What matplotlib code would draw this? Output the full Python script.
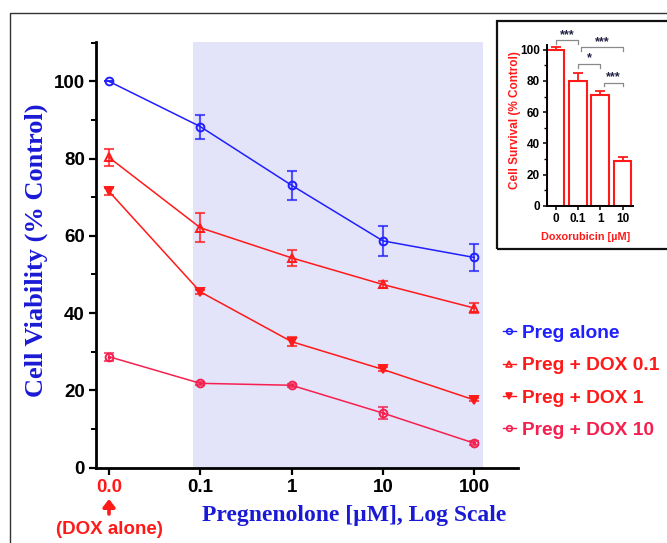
import numpy as np
import matplotlib
matplotlib.use('Agg')
import matplotlib.pyplot as plt
from matplotlib.lines import Line2D
from matplotlib.patches import Rectangle

# main panel data (% control), x = pregnenolone dose
x_labels = ['0.0', '0.1', '1', '10', '100']
preg_alone = [100, 88.3, 73.1, 58.7, 54.4]
preg_alone_err = [0.0, 3.1, 3.8, 3.8, 3.6]
dox01 = [80.3, 62.1, 54.3, 47.4, 41.3]
dox01_err = [2.2, 3.7, 2.0, 0.8, 1.3]
dox1 = [71.5, 45.5, 32.6, 25.4, 17.5]
dox1_err = [1.0, 0.5, 1.2, 0.5, 0.4]
dox10 = [28.7, 21.8, 21.3, 14.1, 6.3]
dox10_err = [1.0, 0.4, 0.4, 1.5, 0.5]

# inset data: doxorubicin alone
dox_doses = ['0', '0.1', '1', '10']
dox_survival = [100, 80.1, 71.2, 28.5]
dox_sem = [1.5, 4.9, 2.5, 2.8]
# significance brackets: (from, to, height, label)
sig_pairs = [(0, 1, 106, '***'), (1.15, 3, 101.5, '***'), (1, 2, 91, '*'), (2.15, 3, 79, '***')]

BLUE = '#1f1fff'
LBLUE = '#1a1ad6'
RED = '#ff1a1a'
PINK = '#f5204f'
SANS = ['Liberation Sans', 'DejaVu Sans']
SERIF = ['Liberation Serif', 'DejaVu Serif']

plt.rcParams['font.family'] = SANS

W, H = 667, 543
fig = plt.figure(figsize=(W / 100, H / 100), dpi=100)

def fx(px):
    return px / W

def fy(py):
    return 1 - py / H

# figure border (runs off right/bottom edge)
fig.patches.append(Rectangle((fx(9.5), -0.1), 1.2, fy(13) + 0.1, transform=fig.transFigure,
                             fill=False, ec='#333333', lw=1.0))

ax = fig.add_axes([fx(96), fy(467.5), fx(518 - 96), (467.5 - 42) / H])
x = np.arange(len(x_labels))

ax.axvspan(0.92, 4.1, color='#e3e3f9', lw=0, zorder=0)

series = [
    (preg_alone, preg_alone_err, BLUE, 'o', 'none', 'Preg alone'),
    (dox01, dox01_err, RED, '^', 'none', 'Preg + DOX 0.1'),
    (dox1, dox1_err, RED, 'v', RED, 'Preg + DOX 1'),
    (dox10, dox10_err, PINK, 'o', 'none', 'Preg + DOX 10'),
]
for vals, errs, col, mk, fc, lab in series:
    ax.errorbar(x, vals, yerr=errs, fmt='none', ecolor=col, elinewidth=1.5,
                capsize=3.3, capthick=1.5, alpha=0.75, zorder=2)
    ax.plot(x, vals, color=col, lw=1.1, marker=mk, ms=5.6, mfc=fc, mec=col, mew=1.4, zorder=3)
ax.plot(x, dox10, ls='none', marker='o', ms=1.6, color=PINK, zorder=4)

ax.set_xlim(-0.142, 4.48)
ax.set_ylim(0, 110.2)
ax.set_xticks(x)
ax.set_xticklabels(x_labels)
ax.set_yticks(np.arange(0, 101, 20))
ax.set_yticks(np.arange(10, 111, 20), minor=True)
for s in ['top', 'right']:
    ax.spines[s].set_visible(False)
for s in ['left', 'bottom']:
    ax.spines[s].set_linewidth(2)
ax.tick_params(which='major', length=5, width=1.6, labelsize=13.5, pad=3)
ax.tick_params(which='minor', length=3.5, width=1.4)
for t in ax.get_xticklabels() + ax.get_yticklabels():
    t.set_fontweight('bold')
ax.get_xticklabels()[0].set_color(RED)

fig.text(fx(36.5), fy(250), 'Cell Viability (% Control)', rotation=90, ha='center', va='center',
         family=SERIF, fontweight='bold', fontsize=19, color=LBLUE)
fig.text(fx(354), fy(516), 'Pregnenolone [µM], Log Scale', ha='center', va='center',
         family=SERIF, fontweight='bold', fontsize=17, color=LBLUE)

# red arrow pointing at the DOX-alone tick
fig.add_artist(matplotlib.patches.FancyArrowPatch(
    (fx(109), fy(514)), (fx(109), fy(499)), transform=fig.transFigure,
    arrowstyle='-|>,head_width=3.5,head_length=4.5', lw=2.6, color=RED, shrinkA=0, shrinkB=0))
fig.text(fx(109), fy(529), '(DOX alone)', ha='center', va='center', fontweight='bold',
         fontsize=13.5, color=RED)

# legend
handles = []
for vals, errs, col, mk, fc, lab in series:
    handles.append(Line2D([], [], color=col, lw=1.0, marker=mk, ms=4, mfc=fc, mec=col, mew=1.2))
leg = fig.legend(handles, [s[5] for s in series], loc='upper left',
                 bbox_to_anchor=(fx(493), fy(315)), frameon=False, borderpad=0,
                 handlelength=0.7, handletextpad=0.3, labelspacing=0.78,
                 prop={'weight': 'bold', 'size': 13.8}, labelcolor='linecolor')

# inset
fig.patches.append(Rectangle((fx(497), fy(249)), 0.4, (249 - 21) / H, transform=fig.transFigure,
                             fill=False, ec='#111111', lw=1.6))
ax2 = fig.add_axes([fx(546.7), fy(206), fx(632.7 - 546.7), (206 - 45) / H])
xi = np.arange(len(dox_doses))
ax2.bar(xi, dox_survival, width=0.79, color='white', edgecolor=RED, lw=1.5, zorder=2)
ax2.errorbar(xi, dox_survival, yerr=[[0] * 4, dox_sem], fmt='none', ecolor=RED,
             elinewidth=1.3, capsize=3.5, capthick=1.3, zorder=1)
ax2.set_xlim(-0.4, 3.45)
ax2.set_ylim(0, 103)
ax2.set_xticks(xi)
ax2.set_xticklabels(dox_doses)
ax2.set_yticks(np.arange(0, 101, 20))
ax2.set_yticks(np.arange(10, 101, 20), minor=True)
for s in ['top', 'right']:
    ax2.spines[s].set_visible(False)
for s in ['left', 'bottom']:
    ax2.spines[s].set_linewidth(1.4)
ax2.tick_params(which='major', length=3, width=1.1, labelsize=8.5, pad=2)
ax2.tick_params(which='minor', length=2, width=1.0)
for t in ax2.get_xticklabels() + ax2.get_yticklabels():
    t.set_fontweight('bold')
for a, b, h, lab in sig_pairs:
    ax2.plot([a, a, b, b], [h - 2.5, h, h, h - 2.5], color='#8a8a8a', lw=0.9, clip_on=False)
    ax2.text((a + b) / 2, h - 0.5, lab, ha='center', va='bottom', fontsize=9,
             fontweight='bold', color='#222244', clip_on=False)
fig.text(fx(515), fy(120), 'Cell Survival (% Control)', rotation=90, ha='center', va='center',
         fontweight='bold', fontsize=8.5, color=RED)
fig.text(fx(586), fy(237), 'Doxorubicin [µM]', ha='center', va='center',
         fontweight='bold', fontsize=7.8, color=RED)

fig.savefig('out.png', dpi=100)
